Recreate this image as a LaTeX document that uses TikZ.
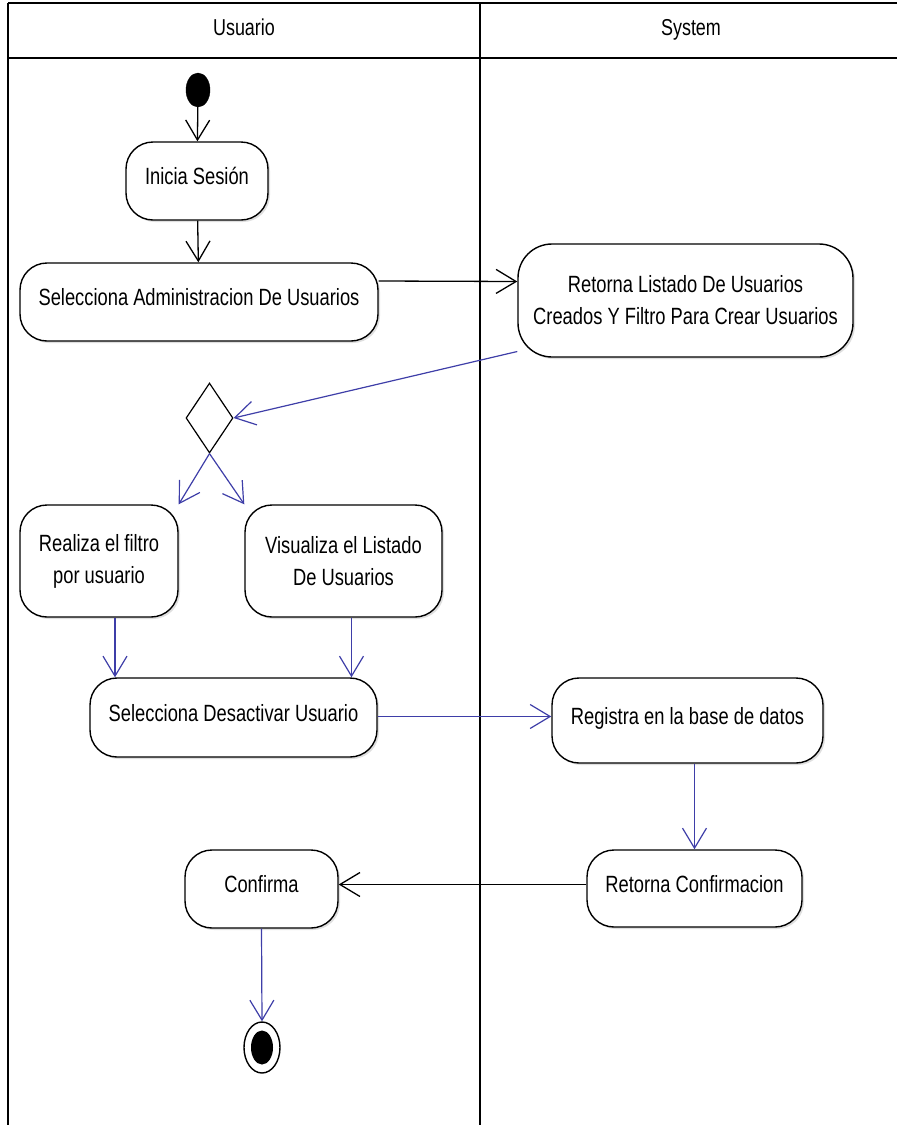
\documentclass[tikz,border=0pt]{standalone}
\usepackage{fontspec}
\setmainfont{Liberation Sans}[FakeStretch=0.78]
\usetikzlibrary{arrows.meta,shapes.geometric,shadows}
\definecolor{flowblue}{RGB}{62,62,168}
\begin{document}
\begin{tikzpicture}[x=1pt,y=-1pt,
  lane/.style={draw=black, line width=1.4pt},
  lanetitle/.style={font=\fontsize{23}{28}\selectfont, inner sep=0pt, anchor=base},
  act/.style={draw=black, line width=1.4pt, rounded corners=27pt, fill=white,
    align=center, inner sep=0pt, font=\fontsize{23.5}{32}\selectfont,
    drop shadow={opacity=0.25, shadow xshift=2pt, shadow yshift=-2pt}},
  oneline/.style={text height=17pt, text depth=10pt},
  blueflow/.style={draw=flowblue, line width=1.2pt, -{Straight Barb[length=20pt,width=24pt]}},
  blackflow/.style={draw=black, line width=1.3pt, -{Straight Barb[length=20pt,width=24pt]}},
]
\useasboundingbox (0,0) rectangle (897,1125);
% swimlanes
\coordinate (tl) at (8,3);
\coordinate (tr) at (897,3);
\coordinate (hl) at (8,58);
\coordinate (hr) at (897,58);
\coordinate (bl) at (8,1125);
\coordinate (dt) at (480,3);
\coordinate (db) at (480,1125);
\draw[lane] (tl) -- (tr);
\draw[lane] (hl) -- (hr);
\draw[lane] (tl) -- (bl);
\draw[lane] (dt) -- (db);
\node[lanetitle] (l1) at (244,35) {Usuario};
\node[lanetitle] (l2) at (691,35) {System};

% nodes
\node[ellipse, fill=black, draw=black, minimum width=24pt, minimum height=34pt, inner sep=0pt] (start) at (198,90) {};
\node[act, oneline, minimum width=142pt, minimum height=78pt] (inicia) at (197,181) {Inicia Sesión};
\node[act, oneline, minimum width=358pt, minimum height=78pt] (admin) at (199,302) {Selecciona Administracion De Usuarios};
\node[act, rounded corners=34pt, minimum width=335pt, minimum height=113pt] (retlist) at (685.5,300.5) {Retorna Listado De Usuarios\\Creados Y Filtro Para Crear Usuarios};
\node[diamond, draw=black, line width=1.2pt, fill=white, minimum width=47pt, minimum height=70pt, inner sep=0pt] (dec) at (209.5,418) {};
\node[act, minimum width=158pt, minimum height=112pt] (realiza) at (99,561) {Realiza el filtro\\por usuario};
\node[act, minimum width=197pt, minimum height=112pt] (visual) at (343.5,561) {Visualiza el Listado\\De Usuarios};
\node[act, oneline, minimum width=287pt, minimum height=79pt] (desact) at (233.5,717.5) {Selecciona Desactivar Usuario};
\node[act, oneline, minimum width=271pt, minimum height=85pt] (registra) at (687.5,720.5) {Registra en la base de datos};
\node[act, oneline, minimum width=215pt, minimum height=77pt] (retconf) at (694.5,888.5) {Retorna Confirmacion};
\node[act, oneline, minimum width=153pt, minimum height=78pt] (confirma) at (261.5,889) {Confirma};
\node[ellipse, draw=black, line width=1.4pt, fill=white, minimum width=36pt, minimum height=51pt, inner sep=0pt] (endn) at (262,1047.5) {};
\node[ellipse, fill=black, minimum width=22pt, minimum height=34pt, inner sep=0pt] (endin) at (endn.center) {};

% flows
\draw[blackflow] (start) -- (inicia);
\draw[blackflow] (inicia) -- (admin);
\draw[blackflow] ([yshift=21pt]admin.east) -- ([yshift=19pt]retlist.west);
\draw[blueflow] ([yshift=-51pt]retlist.west) -- (dec.east);
\draw[blueflow] (dec.south) -- (realiza.north east);
\draw[blueflow] (dec.south) -- (visual.north west);
\draw[blueflow] ([xshift=16pt]realiza.south) -- ([xshift=16pt]realiza.south |- desact.north);
\draw[blueflow] ([xshift=8pt]visual.south) -- ([xshift=8pt]visual.south |- desact.north);
\draw[blueflow] ([yshift=1pt]desact.east) -- ([yshift=1pt]desact.east -| registra.west);
\draw[blueflow] (retconf.north |- registra.south) -- (retconf.north);
\draw[blackflow] ([yshift=4pt]retconf.west) -- ([yshift=4pt]retconf.west -| confirma.east);
\draw[blueflow] (confirma.south) -- (endn.north);
\end{tikzpicture}
\end{document}
